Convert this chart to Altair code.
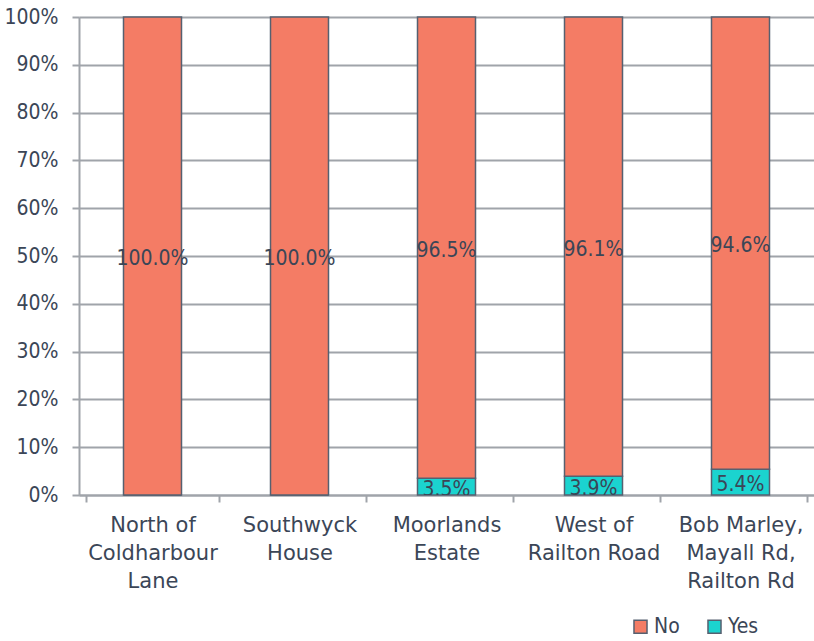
import altair as alt
import pandas as pd

categories = ["North of\nColdharbour\nLane", "Southwyck\nHouse", "Moorlands\nEstate",
              "West of\nRailton Road", "Bob Marley,\nMayall Rd,\nRailton Rd"]
no_vals = [1.000, 1.000, 0.965, 0.961, 0.946]
yes_vals = [0.000, 0.000, 0.035, 0.039, 0.054]
series = ["No", "Yes"]
colors = ["#F47C65", "#1BD3CF"]

rows = []
for c, n, y in zip(categories, no_vals, yes_vals):
    rows.append({"cat": c, "series": "Yes", "value": y, "ord": 0})
    rows.append({"cat": c, "series": "No", "value": n, "ord": 1})
df = pd.DataFrame(rows)

TXT = "#3B4657"
FONT = "DejaVu Sans Condensed"
FONT_X = "DejaVu Sans"

base = alt.Chart(df).transform_stack(
    stack="value", as_=["y0", "y1"], groupby=["cat"],
    sort=[alt.SortField("ord", order="ascending")], offset="normalize"
).transform_calculate(mid="(datum.y0 + datum.y1) / 2")

x_enc = alt.X("cat:N", sort=categories, title=None,
              axis=alt.Axis(labelExpr="split(datum.label, '\\n')", labelAngle=0,
                            labelFontSize=21, labelColor=TXT, labelFont=FONT_X,
                            labelLineHeight=28, labelPadding=12, labelBaseline="top",
                            tickBand="extent", tickSize=7, tickColor="#A0A4AA",
                            tickWidth=2, domainColor="#A0A4AA", domainWidth=2,
                            grid=False))

bars = base.mark_bar(size=58, stroke="#566070", strokeWidth=1.5).encode(
    x=x_enc,
    y=alt.Y("y0:Q", scale=alt.Scale(domain=[0, 1], nice=False), title=None,
            axis=alt.Axis(format=".0%", values=[i / 10 for i in range(11)],
                          labelFontSize=21, labelColor=TXT, labelFont=FONT,
                          labelPadding=14, tickSize=7, tickColor="#A0A4AA", tickWidth=2,
                          gridColor="#A0A4AA", gridWidth=2, domainColor="#A0A4AA",
                          domainWidth=2)),
    y2="y1:Q",
    color=alt.Color("series:N", scale=alt.Scale(domain=series, range=colors), title=None,
                    legend=alt.Legend(orient="none", legendX=551, legendY=599,
                                      direction="horizontal", symbolType="square",
                                      symbolSize=170, symbolStrokeColor="#566070",
                                      symbolStrokeWidth=1.5, labelFontSize=21,
                                      labelColor=TXT, labelFont=FONT, columnPadding=24,
                                      labelOffset=3)),
)

labels = base.transform_filter("datum.value > 0").mark_text(
    fontSize=21, color=TXT, font=FONT, baseline="middle", dy=3, clip=True
).encode(
    x=alt.X("cat:N", sort=categories),
    y=alt.Y("mid:Q", scale=alt.Scale(domain=[0, 1], nice=False)),
    text=alt.Text("value:Q", format=".1%"),
)

chart = alt.layer(bars, labels).properties(
    width=735, height=478,
    padding={"left": 79, "top": 17, "right": 0, "bottom": 146},
    autosize=alt.AutoSizeParams(type="none"),
).configure_view(stroke=None).configure(background="white")

chart.save("out.html", embed_options={"renderer": "svg", "actions": False})
